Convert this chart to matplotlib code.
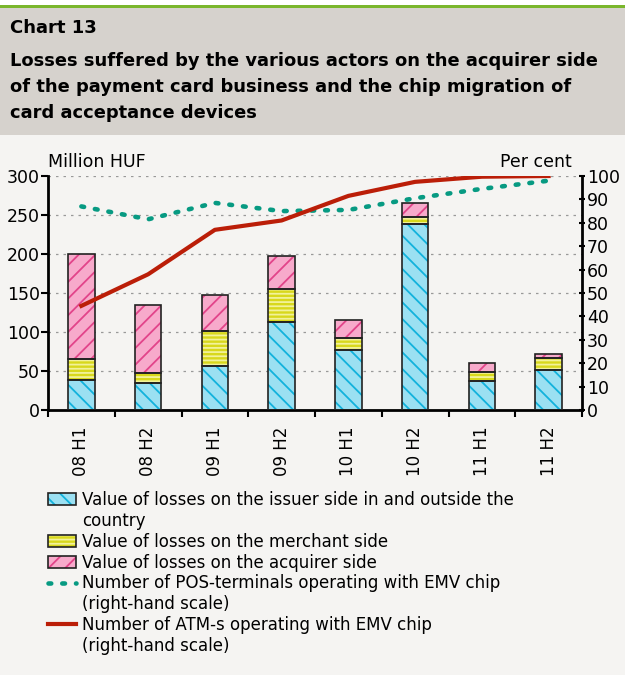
import numpy as np
import matplotlib.pyplot as plt
from matplotlib.patches import Patch, Rectangle
from matplotlib.lines import Line2D
from matplotlib.legend_handler import HandlerTuple

categories = ['08 H1', '08 H2', '09 H1', '09 H2', '10 H1', '10 H2', '11 H1', '11 H2']
issuer = [39, 34, 56, 113, 77, 239, 37, 51]
merchant = [27, 14, 45, 42, 15, 8, 12, 16]
acquirer = [134, 86, 46, 43, 24, 18, 11, 5]
pos_emv = [87, 81.5, 88.5, 85, 85.5, 90.5, 94.5, 98]
atm_emv = [44.5, 58, 77, 81, 91.5, 97.5, 99.7, 100]

# legend rows; continuation lines get an empty handle
labels = [
    'Value of losses on the issuer side in and outside the',
    'country',
    'Value of losses on the merchant side',
    'Value of losses on the acquirer side',
    'Number of POS-terminals operating with EMV chip',
    '(right-hand scale)',
    'Number of ATM-s operating with EMV chip',
    '(right-hand scale)',
]

plt.rcParams['font.family'] = 'DejaVu Sans'
plt.rcParams['hatch.linewidth'] = 1.3

bg = '#f5f4f2'
fig = plt.figure(figsize=(6.25, 6.75), dpi=100)
fig.patch.set_facecolor(bg)

# header band
fig.patches.append(Rectangle((0, 1 - 135 / 675), 1, 128 / 675, transform=fig.transFigure,
                             facecolor='#d6d2cd', edgecolor='none', zorder=0))
fig.patches.append(Rectangle((0, 1 - 8 / 675), 1, 3 / 675, transform=fig.transFigure,
                             facecolor='#7ab62c', edgecolor='none', zorder=1))
fig.patches.append(Rectangle((0, 1 - 5 / 675), 1, 5 / 675, transform=fig.transFigure,
                             facecolor='white', edgecolor='none', zorder=1))
fig.text(0.016, 1 - 28 / 675, 'Chart 13', fontsize=13, fontweight='bold', va='center')
fig.text(0.016, 1 - 87 / 675,
         'Losses suffered by the various actors on the acquirer side\n'
         'of the payment card business and the chip migration of\n'
         'card acceptance devices',
         fontsize=12.9, fontweight='bold', va='center', linespacing=1.6)

ax = fig.add_axes([48 / 625, 1 - 410 / 675, 534 / 625, 234 / 675])
ax.set_facecolor(bg)
x = np.arange(len(categories))
w = 0.4

series = [
    (issuer, '#9be0f2', '#12b2dc', '\\\\'),
    (merchant, '#d8d81c', '#f2f29a', '----'),
    (acquirer, '#f7aacb', '#e2448a', '//'),
]
bottom = np.zeros(len(categories))
handles = []
for vals, fc, hc, hatch in series:
    ax.bar(x, vals, w, bottom=bottom, color=fc, edgecolor=hc, hatch=hatch, linewidth=0, zorder=2)
    ax.bar(x, vals, w, bottom=bottom, fill=False, edgecolor='#222222', linewidth=1.2, zorder=3)
    bottom += np.array(vals)
    handles.append((Patch(facecolor=fc, edgecolor=hc, hatch=hatch, linewidth=0),
                    Patch(fill=False, edgecolor='#222222', linewidth=1.2)))

ax.set_xlim(-0.5, len(categories) - 0.5)
ax.set_ylim(0, 300)
ax.set_yticks(np.arange(0, 301, 50))
ax.set_xticks(x)
ax.set_xticklabels(categories, rotation=90, fontsize=12)
ax.set_xticks(np.arange(-0.5, len(categories), 1), minor=True)
ax.tick_params(axis='x', which='major', length=0, pad=12)
ax.tick_params(axis='x', which='minor', length=5, width=1.5, direction='out')
ax.tick_params(axis='y', labelsize=12.5, length=5, width=1.5, direction='out', pad=1)
for y in range(50, 301, 50):
    ax.axhline(y, color='#999999', linestyle=(0, (2, 4)), linewidth=0.9, zorder=1)
for s in ['top', 'right']:
    ax.spines[s].set_visible(False)
ax.spines['left'].set_linewidth(2)
ax.spines['bottom'].set_linewidth(2)

ax2 = ax.twinx()
ax2.set_ylim(0, 100)
ax2.set_yticks(np.arange(0, 101, 10))
ax2.tick_params(axis='y', labelsize=12.5, length=5, width=1.5, direction='inout', pad=1)
for s in ['top', 'left', 'bottom']:
    ax2.spines[s].set_visible(False)
ax2.spines['right'].set_linewidth(2)
ax2.plot(x, pos_emv, color='#079a82', linestyle=(0, (0.6, 2.4)), linewidth=3.3,
         dash_capstyle='round', zorder=4)
ax2.plot(x, atm_emv, color='#bb1e08', linewidth=3, zorder=5)

fig.text(48 / 625, 1 - 162 / 675, 'Million HUF', fontsize=12.5, va='center', ha='left')
fig.text(572 / 625, 1 - 162 / 675, 'Per cent', fontsize=12.5, va='center', ha='right')

blank = Line2D([], [], linestyle='none')
pos_h = Line2D([], [], color='#079a82', linestyle=(0, (0.6, 2.4)), linewidth=3.3,
               dash_capstyle='round')
atm_h = Line2D([], [], color='#bb1e08', linewidth=3)
leg_handles = [handles[0], blank, handles[1], handles[2], pos_h, blank, atm_h, blank]
fig.legend(leg_handles, labels, loc='upper left', bbox_to_anchor=(48 / 625, 1 - 491 / 675),
           frameon=False, fontsize=12, handlelength=1.7, handleheight=0.7,
           handletextpad=0.35, labelspacing=0.17, borderaxespad=0, borderpad=0,
           handler_map={tuple: HandlerTuple(ndivide=1)})

fig.savefig('out.png', dpi=100, facecolor=bg)
